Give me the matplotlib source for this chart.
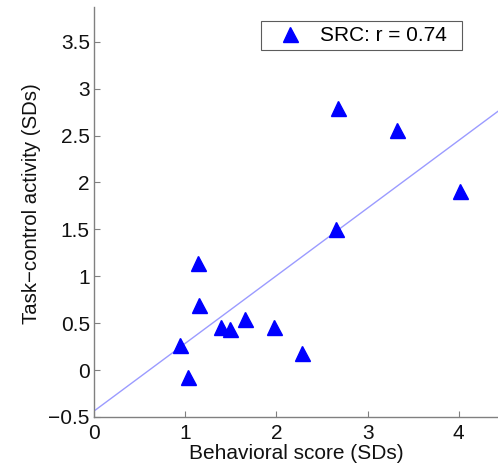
import numpy as np
import matplotlib
matplotlib.use("Agg")
import matplotlib.pyplot as plt

behavioral = [0.94, 1.03, 1.14, 1.155, 1.39, 1.49, 1.66, 1.97, 2.28, 2.65, 2.68, 3.32, 4.01]
task_control = [0.27, -0.07, 1.14, 0.69, 0.46, 0.44, 0.54, 0.46, 0.18, 1.50, 2.79, 2.56, 1.91]
legend_label = "SRC: r = 0.74"
xticks = [0, 1, 2, 3, 4]
yticks = [-0.5, 0, 0.5, 1, 1.5, 2, 2.5, 3, 3.5]

plt.rcParams['font.family'] = ['Liberation Sans', 'DejaVu Sans']

fig = plt.figure(figsize=(4.98, 4.68), dpi=100)
ax = fig.add_axes([94/498, 51/468, 1 - 94/498, (417 - 7)/468])

x = np.array(behavioral)
y = np.array(task_control)
slope, intercept = np.polyfit(x, y, 1)
xlim = (0, 4.43)
ylim = (-0.5, 3.87)
xl = np.array(xlim)
ax.plot(xl, intercept + slope * xl, color='#9b9bff', lw=1.0, zorder=1)
ax.plot(x, y, linestyle='none', marker='^', color='#0000ff', markersize=10.8,
        markeredgecolor='#0000ff', label=legend_label, zorder=2)

ax.set_xlim(*xlim)
ax.set_ylim(*ylim)
ax.set_xticks(xticks)
ax.set_xticklabels([str(t) for t in xticks])
ax.set_yticks(yticks)
ax.set_yticklabels(['\u22120.5', '0', '0.5', '1', '1.5', '2', '2.5', '3', '3.5'])

for s in ['top', 'right']:
    ax.spines[s].set_visible(False)
for s in ['left', 'bottom']:
    ax.spines[s].set_color('#808080')
    ax.spines[s].set_linewidth(1.0)
ax.tick_params(direction='in', length=4, color='#808080', labelsize=15, labelcolor='#111111')
ax.tick_params(axis='x', pad=5)
ax.tick_params(axis='y', pad=3)

ax.set_xlabel('Behavioral score (SDs)', fontsize=15, labelpad=1, color='#111111')
ax.set_ylabel('Task\u2212control activity (SDs)', fontsize=14.7, color='#111111')
ax.yaxis.set_label_coords(-(94 - 41) / 404, (417 - 204) / 410)

leg = ax.legend(loc='upper left', bbox_to_anchor=(261/498, 1 - 50/468, 201/498, 29/468),
                bbox_transform=fig.transFigure, mode='expand',
                fontsize=15, frameon=True, fancybox=False, handlelength=2.3, handletextpad=0.3,
                borderpad=0.25, borderaxespad=0)
leg.get_frame().set_edgecolor('#333333')
leg.get_frame().set_linewidth(0.8)

fig.savefig('out.png', dpi=100)
